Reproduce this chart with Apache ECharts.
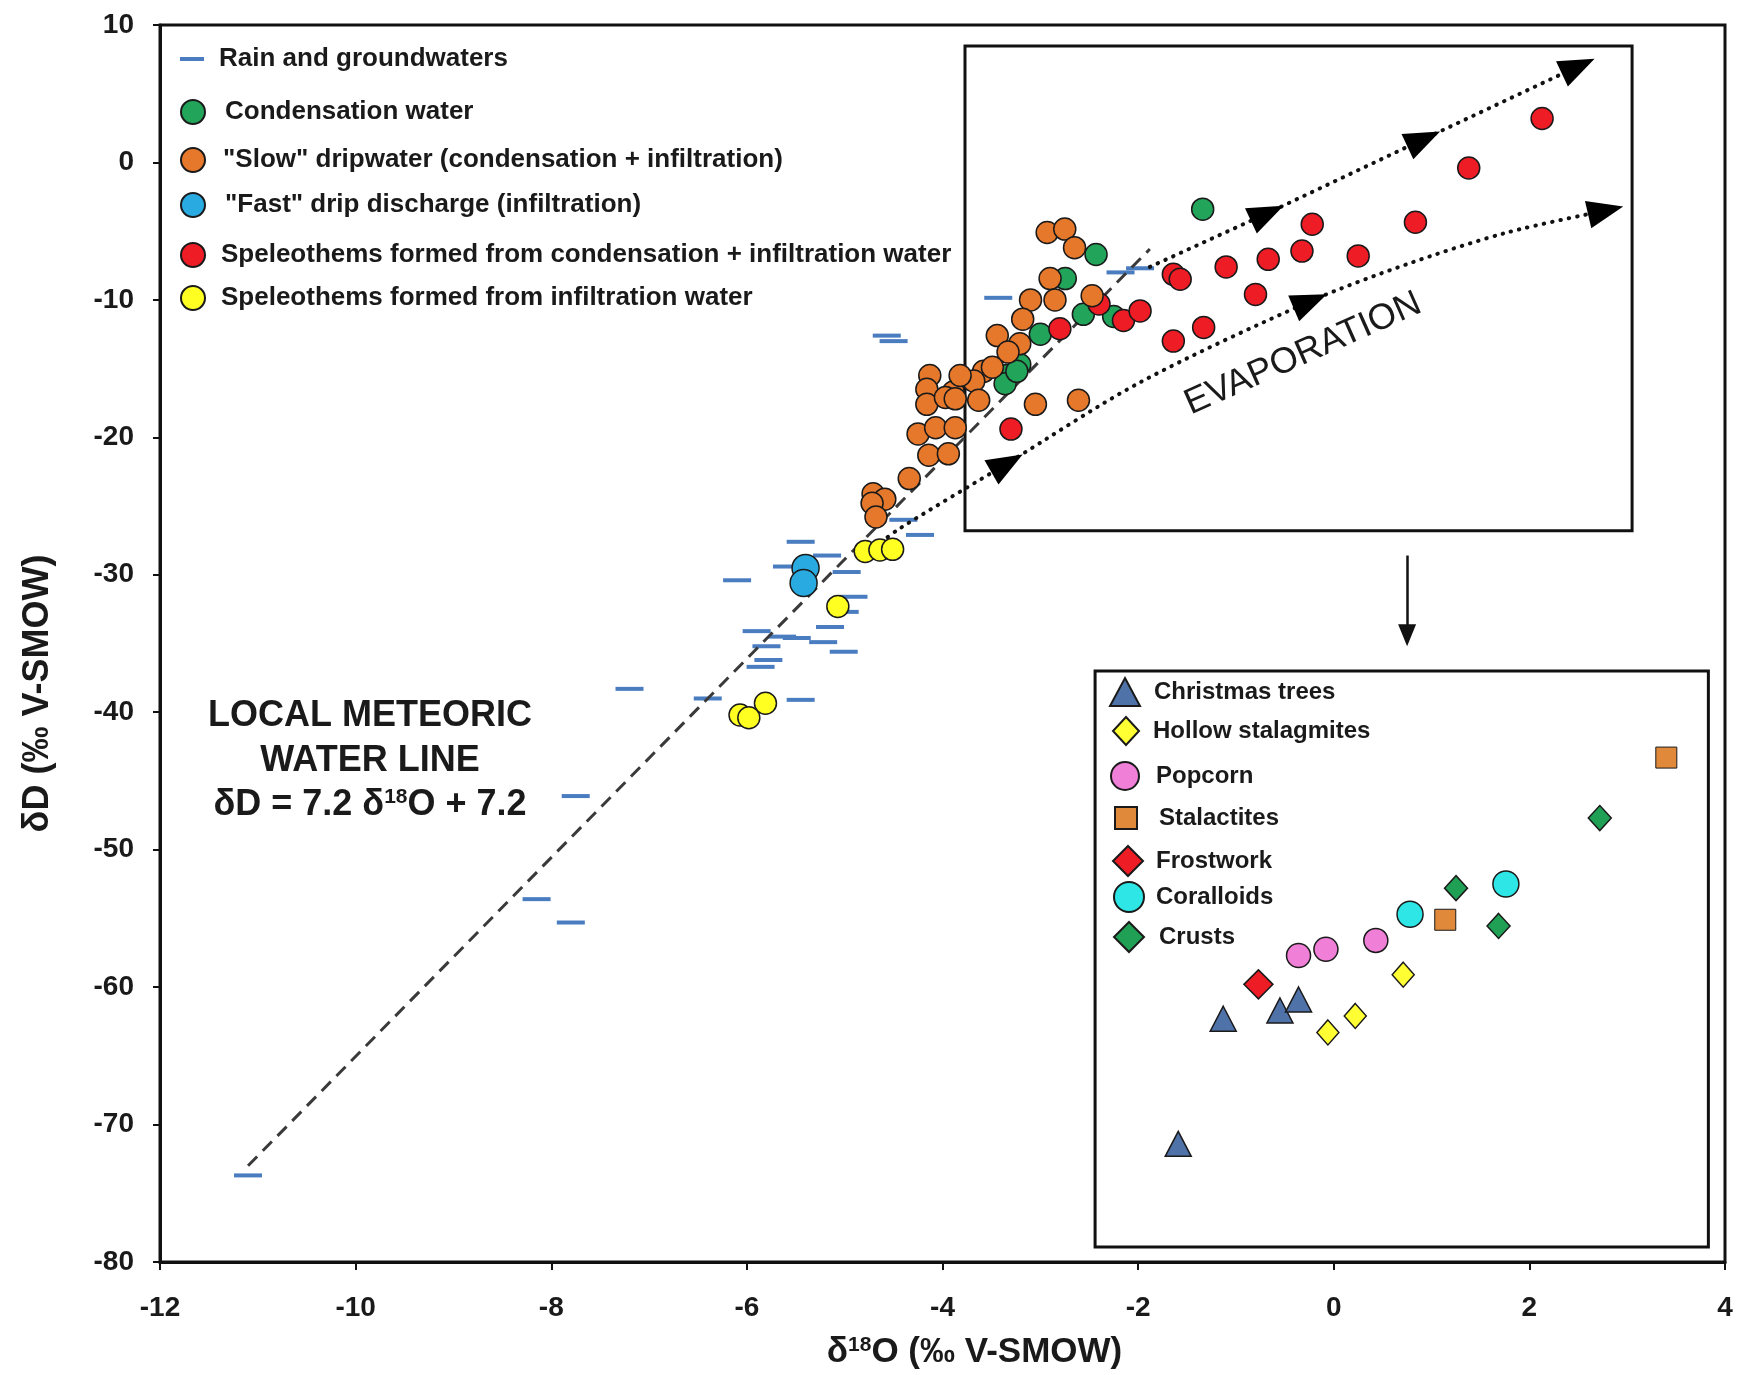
<!DOCTYPE html>
<html><head><meta charset="utf-8">
<script src="https://cdn.jsdelivr.net/npm/echarts@6/dist/echarts.min.js"></script>
<style>html,body{margin:0;padding:0;background:#fff}#c{width:1737px;height:1375px}</style>
</head><body><div id="c"></div>
<script>
// ---------- axes ----------
const X_MIN = -12, X_MAX = 4, X_STEP = 2;
const Y_MIN = -80, Y_MAX = 10, Y_STEP = 10;

// ---------- data (δ18O, δD) ----------
const rainGroundwaters = [
  [-11.1,-73.7],[-8.15,-53.6],[-7.8,-55.3],[-7.75,-46.1],[-7.2,-38.3],[-6.4,-39.0],
  [-6.1,-30.4],[-5.9,-34.1],[-5.8,-35.2],[-5.78,-36.2],[-5.86,-36.7],[-5.64,-34.5],
  [-5.49,-34.6],[-5.45,-39.1],[-5.45,-27.6],[-5.22,-34.9],[-5.15,-33.8],[-5.01,-35.6],
  [-5.0,-32.7],[-4.91,-31.6],[-4.98,-29.8],[-5.59,-29.4],[-5.18,-28.6],[-4.4,-26.0],
  [-4.23,-27.1],[-4.57,-12.6],[-4.5,-13.0],[-3.43,-9.85],[-2.18,-8.0],[-1.98,-7.7]
];
const condensationWater = [
  [-2.43,-6.7],[-2.745,-8.45],[-2.56,-11.05],[-3.0,-12.5],[-2.25,-11.2],
  [-3.21,-14.7],[-3.34,-15.5],[-3.36,-16.1],[-3.24,-15.2],[-1.34,-3.4]
];
const slowDripwater = [
  [-2.93,-5.1],[-2.75,-4.85],[-2.65,-6.2],[-2.9,-8.45],[-2.85,-10.0],[-3.1,-10.0],
  [-3.18,-11.4],[-2.47,-9.7],[-3.44,-12.6],[-3.21,-13.2],[-3.33,-13.8],[-3.58,-15.2],
  [-3.68,-15.9],[-3.49,-14.9],[-4.13,-15.5],[-4.16,-16.5],[-4.16,-17.6],[-3.89,-16.7],
  [-3.82,-15.5],[-3.97,-17.1],[-3.87,-17.2],[-3.63,-17.3],[-3.05,-17.6],[-2.61,-17.3],
  [-4.25,-19.75],[-4.07,-19.3],[-3.87,-19.3],[-4.14,-21.3],[-3.94,-21.2],[-4.34,-23.0],
  [-4.71,-24.1],[-4.59,-24.5],[-4.72,-24.8],[-4.68,-25.8]
];
const fastDrip = [[-5.40,-29.5],[-5.42,-30.6]];
const speleoCondInf = [
  [-2.8,-12.1],[-2.4,-10.3],[-2.15,-11.5],[-1.98,-10.8],[-3.3,-19.4],[-1.64,-8.14],
  [-1.57,-8.5],[-1.1,-7.6],[-0.67,-7.05],[-0.325,-6.45],[-0.22,-4.5],[0.25,-6.8],
  [0.835,-4.35],[1.38,-0.4],[2.13,3.2],[-0.8,-9.6],[-1.33,-12.0],[-1.64,-13.0]
];
const speleoInf = [
  [-4.79,-28.3],[-4.64,-28.2],[-4.51,-28.15],[-5.07,-32.3],[-5.81,-39.35],[-6.07,-40.2],[-5.98,-40.4]
];
const christmasTrees = [[-1.13,-62.3],[-0.55,-61.7],[-0.36,-60.9],[-1.59,-71.4]];
const hollowStalagmites = [[-0.06,-63.3],[0.22,-62.1],[0.71,-59.1]];
const popcorn = [[-0.36,-57.7],[-0.08,-57.25],[0.43,-56.6]];
const stalactites = [[1.14,-55.1],[3.40,-43.3]];
const frostwork = [[-0.77,-59.8]];
const coralloids = [[0.78,-54.7],[1.76,-52.5]];
const crusts = [[1.25,-52.8],[1.685,-55.55],[2.72,-47.7]];

// annotation geometry (data coordinates)
const lmwlLine = [[-11.1,-73.0],[-1.88,-6.3]];
const evapUpper = [[-1.88,-7.6],[-0.68,-3.7],[0.92,1.7],[2.5,7.0]];
const evapLower = [[-4.7,-28.0],[-4.43,-26.6],[-3.34,-21.9],[-1.98,-16.0],[-0.24,-10.1],[0.75,-7.4],[1.77,-5.1],[2.78,-3.5]];
const evapArrows = [[-0.68,-3.7],[0.92,1.7],[2.5,7.0],[-3.34,-21.9],[-0.24,-10.1],[2.78,-3.5]];
const evapBox = [[-3.77,8.47],[3.05,-26.8]];
const insetBox = [[-2.44,-37.0],[3.83,-78.9]];
const downArrow = [[0.75,-28.6],[0.75,-34.4]];

// ---------- styles ----------
const FONT = '"Liberation Sans", Arial, Helvetica, sans-serif';
const ARROW_ROT = [-65,-65,-65,-60,-67,-77];
const EDGE = '#1a1a1a';

function pts(name, data, symbol, size, color, z, bw) {
  return {
    name, type: 'scatter', data, symbol, symbolSize: size, z,
    itemStyle: { color, borderColor: EDGE, borderWidth: bw === undefined ? 1.5 : bw, opacity: 1 },
    emphasis: { disabled: true }
  };
}
function leg(name, icon, w, h, cx, cy, textX, fs) {
  const lh = fs + 6;
  const boxH = Math.max(h, lh);
  return {
    show: true, data: [{ name, icon }], left: cx - w / 2, top: cy - boxH / 2,
    itemWidth: w, itemHeight: h, itemGap: 0, padding: 0, selectedMode: false,
    textStyle: { fontFamily: FONT, fontSize: fs, fontWeight: 'bold', color: '#1a1a1a', lineHeight: lh,
      padding: [0, 0, 0, Math.max(0, textX - (cx + w / 2) - 5)] }
  };
}

const N = {
  rain: 'Rain and groundwaters', cond: 'Condensation water',
  slow: '"Slow" dripwater (condensation + infiltration)', fast: '"Fast" drip discharge (infiltration)',
  sci: 'Speleothems formed from condensation + infiltration water', si: 'Speleothems formed from infiltration water',
  ct: 'Christmas trees', hs: 'Hollow stalagmites', pc: 'Popcorn', st: 'Stalactites',
  fw: 'Frostwork', co: 'Coralloids', cr: 'Crusts'
};

const series = [
  { type: 'scatter', data: [], z: 1, silent: true,
    markArea: { silent: true, itemStyle: { color: 'rgba(0,0,0,0)', borderColor: '#111', borderWidth: 3 },
      data: [[{ coord: evapBox[0] }, { coord: evapBox[1] }],
             [{ coord: insetBox[0], itemStyle: { color: '#fff' } }, { coord: insetBox[1] }]] } },
  { name: N.rain, type: 'scatter', data: rainGroundwaters, symbol: 'rect', symbolSize: [28, 4], z: 2,
    itemStyle: { color: '#4a7cc0', borderWidth: 0, opacity: 1 }, emphasis: { disabled: true } },
  { type: 'line', data: lmwlLine, showSymbol: false, symbol: 'none', z: 3, silent: true,
    lineStyle: { color: '#3a3a3a', width: 3, type: [13, 8] } },
  { type: 'line', data: evapUpper, showSymbol: false, symbol: 'none', z: 3, silent: true,
    lineStyle: { color: '#111', width: 4, type: [0.5, 8], cap: 'round' } },
  { type: 'line', data: evapLower, showSymbol: false, symbol: 'none', smooth: 0.3, z: 3, silent: true,
    lineStyle: { color: '#111', width: 4, type: [0.5, 8], cap: 'round' } },
  { type: 'scatter', z: 4, silent: true, symbol: 'triangle', symbolSize: [28, 36],
    itemStyle: { color: '#000', opacity: 1 },
    data: evapArrows.map((p, i) => ({ value: p, symbolRotate: ARROW_ROT[i] })) },
  { type: 'line', data: [], z: 4, silent: true,
    markLine: { silent: true, symbol: ['none', 'triangle'], symbolSize: [18, 22], label: { show: false },
      lineStyle: { color: '#111', width: 2.5, type: 'solid' },
      data: [[{ coord: downArrow[0] }, { coord: downArrow[1] }]] } },
  pts(N.cond, condensationWater, 'circle', 22, '#22a55a', 5),
  pts(N.sci, speleoCondInf, 'circle', 22, '#ee1c25', 6),
  pts(N.si, speleoInf, 'circle', 22, '#ffff22', 6),
  pts(N.fast, fastDrip, 'circle', 27, '#29abe2', 6),
  pts(N.slow, slowDripwater, 'circle', 22, '#e6782c', 7),
  pts(N.ct, christmasTrees, 'triangle', [26, 25], '#4f72a8', 8),
  pts(N.hs, hollowStalagmites, 'diamond', [22, 25], '#ffff33', 8),
  pts(N.pc, popcorn, 'circle', 24, '#f07fd8', 8),
  pts(N.st, stalactites, 'rect', 21, '#e0893a', 8, 1),
  pts(N.fw, frostwork, 'diamond', [29, 29], '#ee1c25', 8),
  pts(N.co, coralloids, 'circle', 26, '#2ee6e6', 8),
  pts(N.cr, crusts, 'diamond', [23, 25], '#20a055', 8)
];

const legends = [
  leg(N.rain, 'rect', 24, 4, 192, 59, 219, 26),
  leg(N.cond, 'circle', 24, 24, 192, 112, 224, 26),
  leg(N.slow, 'circle', 24, 24, 192, 160, 222, 26),
  leg(N.fast, 'circle', 24, 24, 192, 205, 224, 26),
  leg(N.sci, 'circle', 24, 24, 192, 255, 220, 26),
  leg(N.si, 'circle', 24, 24, 192, 298, 220, 26),
  leg(N.ct, 'triangle', 30, 28, 1124, 692, 1153, 24),
  leg(N.hs, 'diamond', 26, 28, 1125, 731, 1152, 24),
  leg(N.pc, 'circle', 28, 28, 1124, 776, 1155, 24),
  leg(N.st, 'rect', 22, 22, 1125, 818, 1158, 24),
  leg(N.fw, 'diamond', 30, 30, 1127, 860, 1155, 24),
  leg(N.co, 'circle', 30, 30, 1128, 896, 1155, 24),
  leg(N.cr, 'diamond', 30, 30, 1128, 936, 1158, 24)
];

const chart = echarts.init(document.getElementById('c'), null, { renderer: 'canvas' });
chart.setOption({
  animation: false,
  backgroundColor: '#fff',
  grid: { left: 160, right: 12, top: 25, bottom: 112, show: true, borderColor: '#111', borderWidth: 3, backgroundColor: 'transparent' },
  legend: legends,
  xAxis: {
    type: 'value', min: X_MIN, max: X_MAX, interval: X_STEP,
    axisLine: { show: true, onZero: false, lineStyle: { color: '#111', width: 3 } },
    axisTick: { show: true, length: 8, lineStyle: { color: '#111', width: 2 } },
    splitLine: { show: false },
    axisLabel: { fontFamily: FONT, fontSize: 28, fontWeight: 'bold', color: '#1a1a1a', margin: 32 },
    name: '{n|δ}{s|18}{n|O (‰ V-SMOW)}', nameLocation: 'middle', nameGap: 73,
    nameTextStyle: { padding: [0, 0, 0, 64], rich: {
      n: { fontFamily: FONT, fontSize: 35, fontWeight: 'bold', color: '#1a1a1a' },
      s: { fontFamily: FONT, fontSize: 21, fontWeight: 'bold', color: '#1a1a1a', verticalAlign: 'top' } } }
  },
  yAxis: {
    type: 'value', min: Y_MIN, max: Y_MAX, interval: Y_STEP,
    axisLine: { show: true, onZero: false, lineStyle: { color: '#111', width: 3 } },
    axisTick: { show: true, length: 7, lineStyle: { color: '#111', width: 2 } },
    splitLine: { show: false },
    axisLabel: { fontFamily: FONT, fontSize: 28, fontWeight: 'bold', color: '#1a1a1a', margin: 26 },
    name: 'δD (‰ V-SMOW)', nameLocation: 'middle', nameGap: 104,
    nameTextStyle: { fontFamily: FONT, fontSize: 36, fontWeight: 'bold', color: '#1a1a1a', padding: [0, 100, 0, 0] }
  },
  graphic: [
    { type: 'text', x: 370, y: 716, z: 20, style: { text: 'LOCAL METEORIC', fontFamily: FONT, fontSize: 36, fontWeight: 'bold', fill: '#1a1a1a', align: 'center', verticalAlign: 'middle' } },
    { type: 'text', x: 370, y: 761, z: 20, style: { text: 'WATER LINE', fontFamily: FONT, fontSize: 36, fontWeight: 'bold', fill: '#1a1a1a', align: 'center', verticalAlign: 'middle' } },
    { type: 'text', x: 370, y: 805, z: 20, style: { text: '{a|δD = 7.2 δ}{s|18}{a|O + 7.2}', align: 'center', verticalAlign: 'middle',
      rich: { a: { fontFamily: FONT, fontSize: 36, fontWeight: 'bold', fill: '#1a1a1a' },
              s: { fontFamily: FONT, fontSize: 21, fontWeight: 'bold', fill: '#1a1a1a', verticalAlign: 'top' } } } },
    { type: 'text', x: 1303, y: 354, rotation: 24 * Math.PI / 180, z: 20,
      style: { text: 'EVAPORATION', fontFamily: FONT, fontSize: 36, fontWeight: 500, fill: '#1a1a1a', align: 'center', verticalAlign: 'middle' } }
  ],
  series
});
</script></body></html>
